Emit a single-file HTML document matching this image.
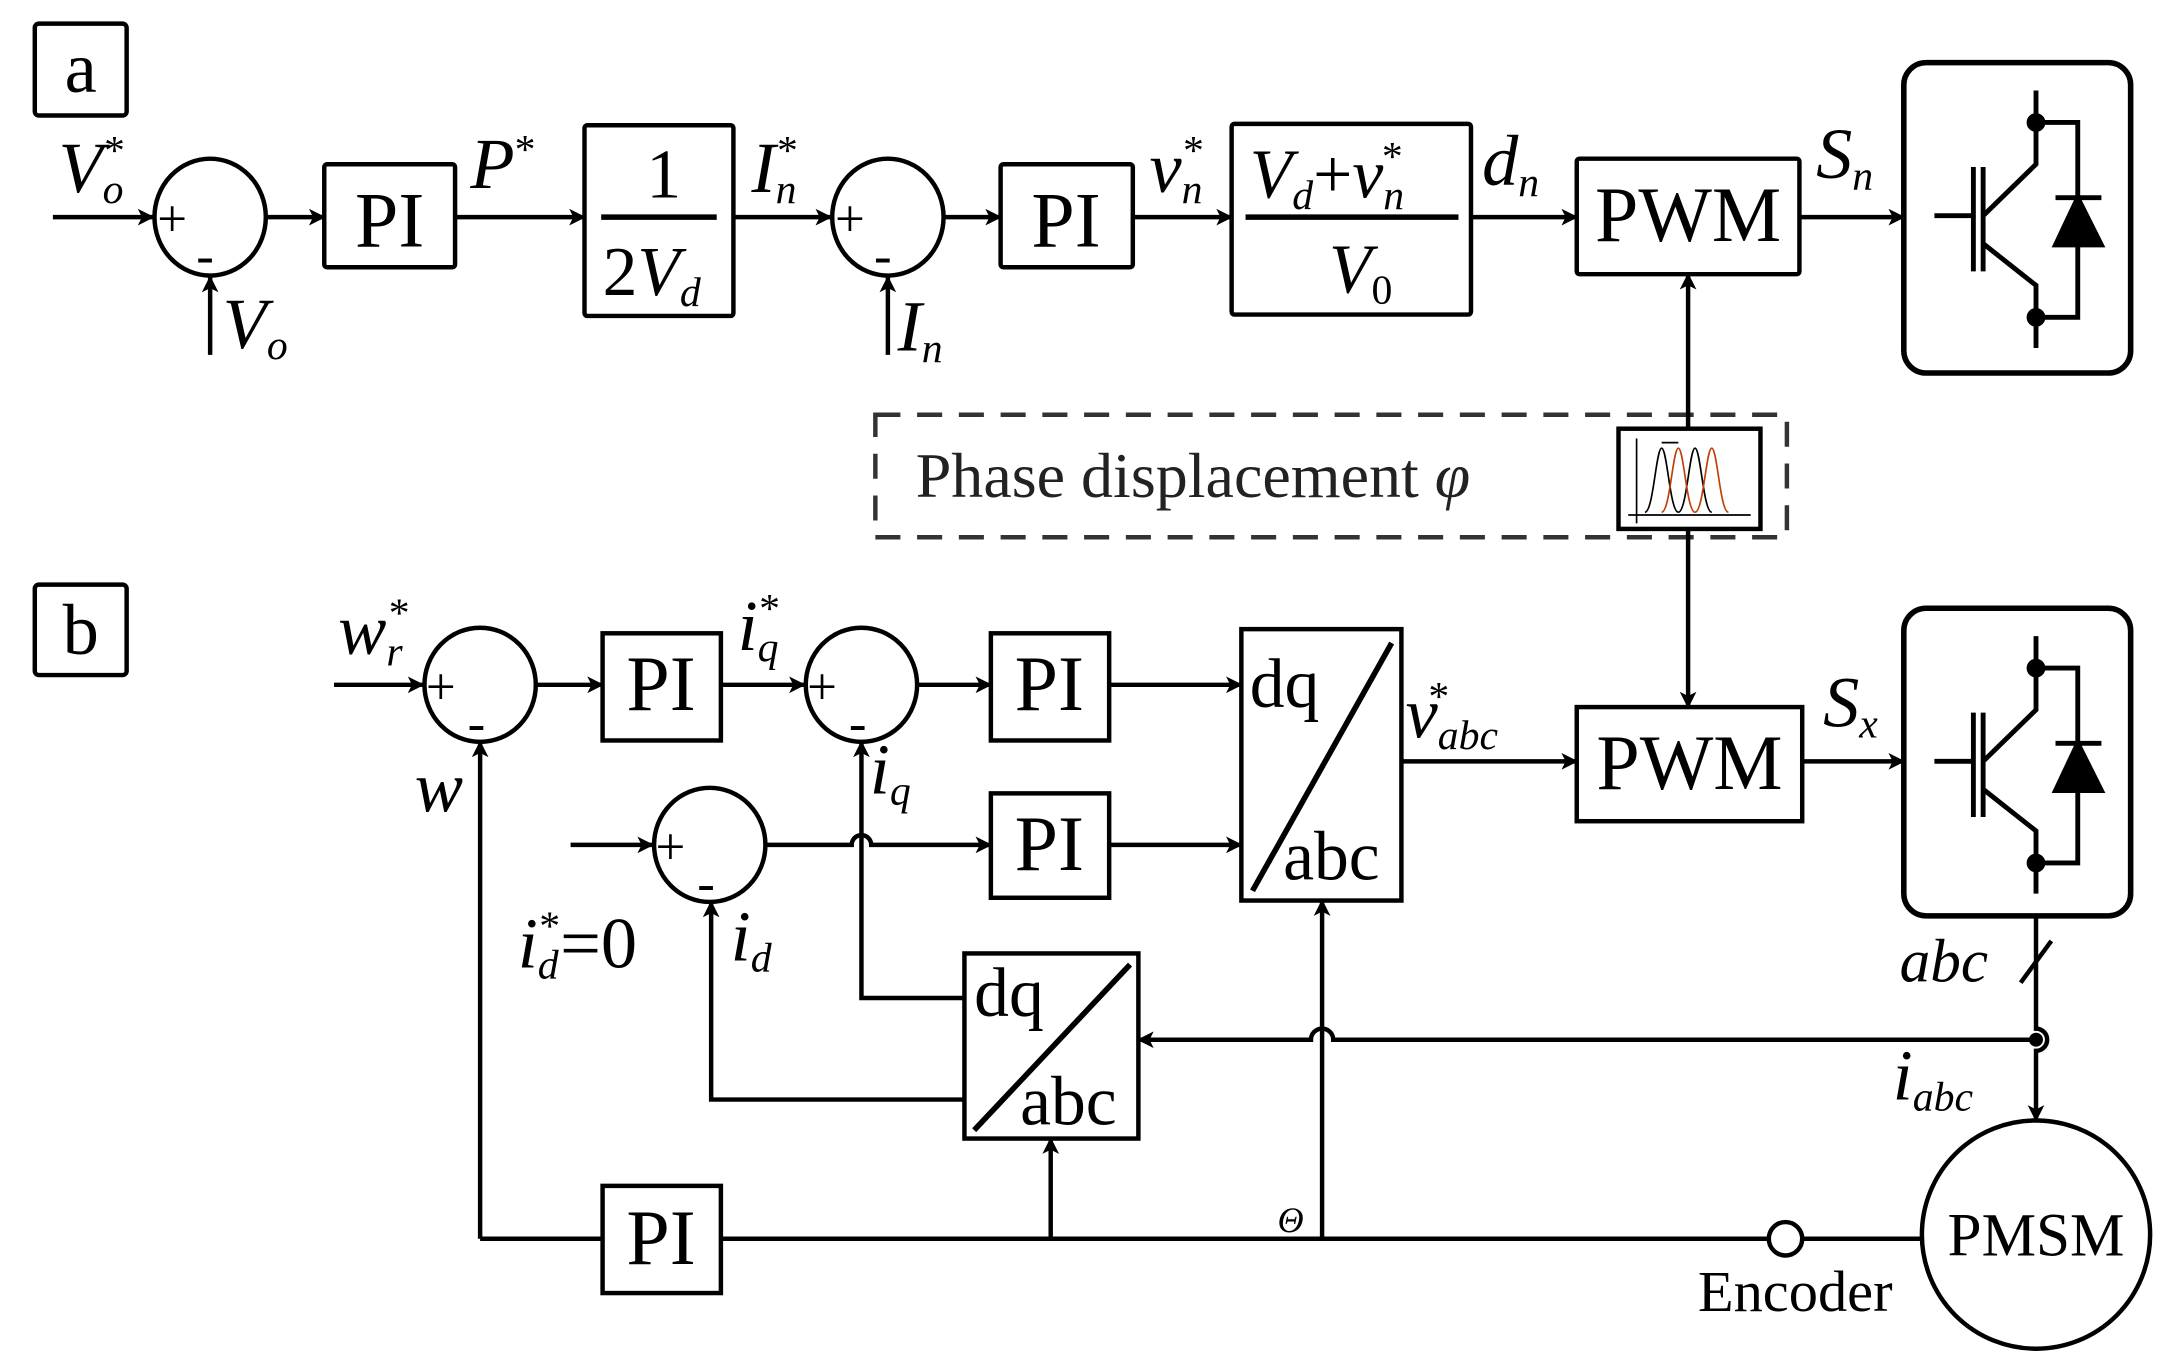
<!DOCTYPE html>
<html><head><meta charset="utf-8"><style>html,body{margin:0;padding:0;background:#fff}svg{display:block}
text{font-family:"Liberation Serif",serif;fill:#000}
.i{font-style:italic}
</style></head><body>
<svg width="2171" height="1371" viewBox="0 0 1560 985" preserveAspectRatio="none" xmlns="http://www.w3.org/2000/svg">
<defs>
<marker id="ar" markerWidth="12" markerHeight="12" refX="11" refY="6" orient="auto" markerUnits="userSpaceOnUse" viewBox="0 0 12 12"><path d="M0,0 L12,6 L0,12 L3,6 z" fill="#000"/></marker>
<g id="igbt" fill="none" stroke="#000" stroke-width="3.5">
<path d="M1463,65 V118 L1425,155"/>
<path d="M1425,175 L1463,205 V250"/>
<path d="M1425,120 V195 M1418,120 V195 M1390,155 H1418"/>
<path d="M1463,88 H1493 V228 H1463"/>
<path d="M1477,142 H1510"/>
<path d="M1493,142 L1477,176 H1510 Z" fill="#000"/>
<circle cx="1463" cy="88" r="5" fill="#000"/>
<circle cx="1463" cy="228" r="5" fill="#000"/>
</g>
</defs>
<g fill="none" stroke="#000" stroke-width="3.2">
<rect x="25" y="17" width="66" height="66" rx="3"/>
<ellipse cx="151" cy="156" rx="40" ry="42"/>
<ellipse cx="638" cy="156" rx="40" ry="42"/>
<rect x="233" y="118" width="94" height="74" rx="2"/>
<rect x="420" y="90" width="107" height="137" rx="2"/>
<rect x="719" y="118" width="95" height="74" rx="2"/>
<rect x="885" y="89" width="172" height="137" rx="2"/>
<rect x="1133" y="114" width="160" height="83" rx="2"/>
<rect x="1368" y="45" width="163" height="223" rx="16" stroke-width="4"/>
<path d="M432,156 H515 M895,156 H1048" stroke-width="4"/>
<path d="M38,156 H110" marker-end="url(#ar)"/>
<path d="M151,255 V199" marker-end="url(#ar)"/>
<path d="M192,156 H233" marker-end="url(#ar)"/>
<path d="M327,156 H420" marker-end="url(#ar)"/>
<path d="M527,156 H597" marker-end="url(#ar)"/>
<path d="M638,255 V199" marker-end="url(#ar)"/>
<path d="M679,156 H719" marker-end="url(#ar)"/>
<path d="M814,156 H885" marker-end="url(#ar)"/>
<path d="M1057,156 H1133" marker-end="url(#ar)"/>
<path d="M1293,156 H1368" marker-end="url(#ar)"/>
<rect x="629" y="298" width="655" height="88" stroke="#333" stroke-dasharray="18,12"/>
<rect x="1163" y="308" width="102" height="72"/>
<path d="M1213,308 V197" marker-end="url(#ar)"/>
<path d="M1213,380 V508" marker-end="url(#ar)"/>
<rect x="25" y="420" width="66" height="65" rx="3"/>
<ellipse cx="345" cy="492" rx="40" ry="41"/>
<ellipse cx="619" cy="492" rx="40" ry="41"/>
<ellipse cx="510" cy="607" rx="40" ry="41"/>
<rect x="433" y="455" width="85" height="77"/>
<rect x="712" y="455" width="85" height="77"/>
<rect x="712" y="570" width="85" height="75"/>
<rect x="892" y="452" width="115" height="195"/>
<path d="M1000,462 L900,640" stroke-width="4"/>
<rect x="1133" y="508" width="162" height="82"/>
<rect x="1368" y="437" width="163" height="221" rx="16" stroke-width="4"/>
<rect x="693" y="685" width="125" height="133"/>
<path d="M812,693 L700,812" stroke-width="4"/>
<rect x="433" y="852" width="85" height="77"/>
<ellipse cx="1463" cy="887" rx="82" ry="82"/>
<circle cx="1283" cy="890" r="12"/>
<path d="M240,492 H304" marker-end="url(#ar)"/>
<path d="M386,492 H433" marker-end="url(#ar)"/>
<path d="M518,492 H578" marker-end="url(#ar)"/>
<path d="M660,492 H712" marker-end="url(#ar)"/>
<path d="M797,492 H892" marker-end="url(#ar)"/>
<path d="M410,607 H469" marker-end="url(#ar)"/>
<path d="M551,607 H612 A7,7 0 0 1 626,607 H712" marker-end="url(#ar)"/>
<path d="M797,607 H892" marker-end="url(#ar)"/>
<path d="M1007,547 H1133" marker-end="url(#ar)"/>
<path d="M1295,547 H1368" marker-end="url(#ar)"/>
<path d="M693,717 H619 V533" marker-end="url(#ar)"/>
<path d="M693,790 H511 V648" marker-end="url(#ar)"/>
<path d="M1463,658 V739 A8,8 0 0 1 1463,755 V805" marker-end="url(#ar)"/>
<path d="M1452,706 L1474,676"/>
<path d="M1463,747 H958 A8,8 0 0 0 942,747 H818" marker-end="url(#ar)"/>
<path d="M345,890 V533" marker-end="url(#ar)"/>
<path d="M345,890 H433"/>
<path d="M518,890 H1271 M1295,890 H1381"/>
<path d="M755,890 V818" marker-end="url(#ar)"/>
<path d="M950,890 V647" marker-end="url(#ar)"/>
</g>
<circle cx="1463" cy="747" r="5"/>
<use href="#igbt"/>
<use href="#igbt" y="392"/>
<g fill="none" stroke-width="1.2">
<path d="M1170,370 H1258 M1176,315 V376" stroke="#000"/>
<path d="M1182,368 C1188,368 1190,322 1194,322 C1198,322 1200,368 1206,368 C1212,368 1214,322 1218,322 C1222,322 1224,368 1230,368" stroke="#000"/>
<path d="M1194,368 C1200,368 1202,322 1206,322 C1210,322 1212,368 1218,368 C1224,368 1226,322 1230,322 C1234,322 1236,368 1242,368" stroke="#c0400a"/>
<path d="M1194,318 H1206" stroke="#000"/>
</g>
<text x="58" y="66" font-size="52" text-anchor="middle">a</text>
<text x="58" y="470" font-size="52" text-anchor="middle">b</text>
<g font-size="38"><text x="113" y="170">+</text><text x="141" y="196">-</text>
<text x="600" y="170">+</text><text x="628" y="196">-</text>
<text x="306" y="506">+</text><text x="336" y="532">-</text>
<text x="580" y="506">+</text><text x="610" y="532">-</text>
<text x="471" y="621">+</text><text x="501" y="647">-</text></g>
<g font-size="56" text-anchor="middle">
<text x="280" y="177">PI</text><text x="766" y="177">PI</text>
<text x="1213" y="173">PWM</text><text x="1214" y="567">PWM</text>
<text x="475" y="510">PI</text><text x="754" y="510">PI</text><text x="754" y="625">PI</text>
<text x="475" y="908">PI</text>
<text x="477" y="142" font-size="50">1</text>
</g>
<text x="433" y="212" font-size="50">2<tspan class="i">V</tspan><tspan font-size="30" class="i" dy="8">d</tspan></text>
<text x="898" y="142" font-size="50" class="i">V<tspan font-size="30" dy="8">d</tspan><tspan dy="-8" font-style="normal">+</tspan>v<tspan font-size="30" dy="8">n</tspan><tspan font-size="30" dx="-16" dy="-28" font-style="normal">*</tspan></text>
<text x="955" y="210" font-size="50" class="i">V<tspan font-size="30" dy="8" font-style="normal">0</tspan></text>
<g font-size="52" class="i">
<text x="42" y="138">V<tspan font-size="30" dy="8">o</tspan><tspan font-size="30" dx="-14" dy="-28" font-style="normal">*</tspan></text>
<text x="160" y="250">V<tspan font-size="30" dy="8">o</tspan></text>
<text x="338" y="135">P<tspan font-size="30" dy="-18" font-style="normal">*</tspan></text>
<text x="540" y="138">I<tspan font-size="30" dy="8">n</tspan><tspan font-size="30" dx="-14" dy="-28" font-style="normal">*</tspan></text>
<text x="645" y="252">I<tspan font-size="30" dy="8">n</tspan></text>
<text x="826" y="138">v<tspan font-size="30" dy="8">n</tspan><tspan font-size="30" dx="-14" dy="-28" font-style="normal">*</tspan></text>
<text x="1065" y="133">d<tspan font-size="30" dy="8">n</tspan></text>
<text x="1305" y="128">S<tspan font-size="30" dy="8">n</tspan></text>
<text x="1310" y="522">S<tspan font-size="30" dy="8">x</tspan></text>
<text x="243" y="470">w<tspan font-size="30" dy="8">r</tspan><tspan font-size="30" dx="-10" dy="-28" font-style="normal">*</tspan></text>
<text x="530" y="467">i<tspan font-size="30" dy="8">q</tspan><tspan font-size="30" dx="-14" dy="-28" font-style="normal">*</tspan></text>
<text x="625" y="570">i<tspan font-size="30" dy="8">q</tspan></text>
<text x="298" y="583">w</text>
<text x="525" y="690">i<tspan font-size="30" dy="8">d</tspan></text>
<text x="372" y="695">i<tspan font-size="30" dy="8">d</tspan><tspan font-size="30" dx="-14" dy="-28" font-style="normal">*</tspan><tspan dy="20" font-style="normal">=0</tspan></text>
<text x="1010" y="530">v<tspan font-size="30" dy="8">abc</tspan><tspan font-size="30" dx="-50" dy="-28" font-style="normal">*</tspan></text>
<text x="1365" y="705" font-size="44">abc</text>
<text x="1360" y="790">i<tspan font-size="30" dy="8">abc</tspan></text>
<text x="918" y="885" font-size="26">Θ</text>
</g>
<g font-size="50">
<text x="898" y="508">dq</text><text x="922" y="632">abc</text>
<text x="700" y="730">dq</text><text x="733" y="808">abc</text>
</g>
<text x="658" y="357" font-size="46" style="fill:#222">Phase displacement <tspan class="i">φ</tspan></text>
<text x="1290" y="942" font-size="42" text-anchor="middle">Encoder</text>
<text x="1463" y="902" font-size="44" text-anchor="middle">PMSM</text>
</svg>
</body></html>
